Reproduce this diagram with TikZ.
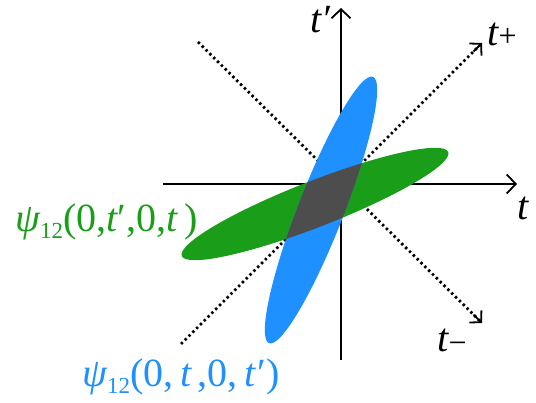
\documentclass[tikz,border=0pt]{standalone}
\usepackage{fontspec}
\setmainfont{Liberation Serif}
\usetikzlibrary{arrows.meta,calc}
\definecolor{wgreen}{HTML}{1A9E1A}
\definecolor{wblue}{HTML}{1E90FF}
\definecolor{overlap}{HTML}{4D4D4D}

\begin{document}
\begin{tikzpicture}[x=1pt,y=1pt,
  axis/.style={line width=1.8pt,-{Straight Barb[length=9pt,width=19pt]}},
  diag/.style={line width=2.8pt,dash pattern=on 2.4pt off 3pt},
  diagtip/.style={line width=1.8pt,-{Straight Barb[length=8pt,width=17pt]}},
  lab/.style={font=\fontsize{40}{42}\selectfont,inner sep=0pt}]
  \useasboundingbox (0,0) rectangle (536,403);

  % Axes and the two diagonals
  \coordinate (O) at (341,219);
  \coordinate (xl) at (163,219);
  \coordinate (xr) at (517,219);
  \coordinate (yb) at (341,43);
  \coordinate (yt) at (341,395);
  \coordinate (pl) at (181,59);
  \coordinate (pr) at (482,360);
  \coordinate (ml) at (198,361);
  \coordinate (mr) at (482,80);
  \draw[axis] (xl) -- (xr);
  \draw[axis] (yb) -- (yt);
  \draw[diag] (pl) -- ($(pr)!3pt!(pl)$);
  \draw[diag] (ml) -- ($(mr)!3pt!(ml)$);
  \draw[diagtip] ($(pr)!12pt!(pl)$) -- (pr);
  \draw[diagtip] ($(mr)!12pt!(ml)$) -- (mr);

  % The two wave functions
  \fill[wgreen] (315,199) ellipse[x radius=143pt,y radius=23pt,rotate=21.3];
  \fill[wblue] (321,193) ellipse[x radius=143pt,y radius=23pt,rotate=68.7];
  \begin{scope}
    \clip (315,199) ellipse[x radius=143pt,y radius=23pt,rotate=21.3];
    \fill[overlap] (321,193) ellipse[x radius=143pt,y radius=23pt,rotate=68.7];
  \end{scope}

  % Labels
  \node[lab] (tp) at (320,383) {\itshape t′};
  \node[lab] (tplus) at (502,368) {\itshape t\raisebox{-1pt}{\fontsize{32}{32}\selectfont\upshape +}};
  \node[lab] (tx) at (523,195) {\itshape t};
  \node[lab] (tminus) at (452,62) {\itshape t\raisebox{-2pt}{\fontsize{32}{32}\selectfont\upshape −}};
  \node[lab,wgreen,anchor=base west] (psig) at (15,171)
    {\itshape ψ\upshape\raisebox{-7pt}{\fontsize{23}{23}\selectfont 12}(0,\itshape t\upshape′,0,\itshape t\upshape\,)};
  \node[lab,wblue,anchor=base west] (psib) at (82,16)
    {\itshape ψ\upshape\raisebox{-7pt}{\fontsize{23}{23}\selectfont 12}(0,\,\itshape t\upshape\,,0,\,\itshape t\upshape\kern2pt′)};
\end{tikzpicture}
\end{document}
